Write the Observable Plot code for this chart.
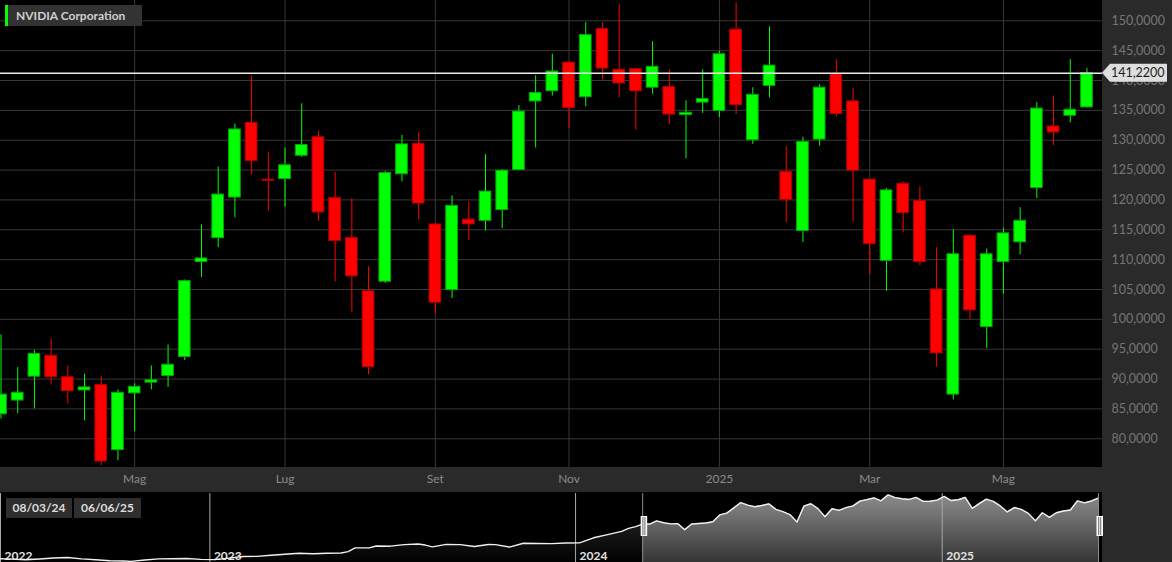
<!DOCTYPE html>
<html>
<head>
<meta charset="utf-8">
<script src="https://cdn.jsdelivr.net/npm/d3@7"></script>
<script src="https://cdn.jsdelivr.net/npm/@observablehq/plot@0.6"></script>
<style>
  html, body { margin: 0; padding: 0; background: #000; }
  #wrap { position: relative; width: 1172px; height: 562px; background: #000; overflow: hidden; font-family: Lato, sans-serif; }
  .panel { position: absolute; background: #2a2a2a; }
  #main, #nav { position: absolute; left: 0; }
  #main { top: 0; }
  #nav { top: 493px; }
  #title { position: absolute; left: 5px; top: 5px; height: 21px; width: 126px; background: #333; border-left: 3px solid #00ff00;
           color: #cfcfcf; font: bold 12px Lato, sans-serif; line-height: 21px; padding-left: 8px; white-space: nowrap; }
  .datebox { position: absolute; top: 498px; height: 20px; background: #2e2e2e; color: #dcdcdc;
             font: bold 12px Lato, sans-serif; line-height: 20px; text-align: center; }
</style>
</head>
<body>
<div id="wrap">
  <div class="panel" style="left:1102px;top:0;width:70px;height:562px"></div>
  <div class="panel" style="left:0;top:467px;width:1102px;height:25px"></div>
  <div id="main"></div>
  <div id="nav"></div>
  <div id="title"></div>
  <div class="datebox" id="d0" style="left:6px;width:66px"></div>
  <div class="datebox" id="d1" style="left:74px;width:67px"></div>
</div>
<script>
// ---------- data ----------
const title = "NVIDIA Corporation";
const weeks = [
  "2024-03-04","2024-03-11","2024-03-18","2024-03-25","2024-04-01","2024-04-08","2024-04-15","2024-04-22",
  "2024-04-29","2024-05-06","2024-05-13","2024-05-20","2024-05-27","2024-06-03","2024-06-10","2024-06-17",
  "2024-06-24","2024-07-01","2024-07-08","2024-07-15","2024-07-22","2024-07-29","2024-08-05","2024-08-12",
  "2024-08-19","2024-08-26","2024-09-02","2024-09-09","2024-09-16","2024-09-23","2024-09-30","2024-10-07",
  "2024-10-14","2024-10-21","2024-10-28","2024-11-04","2024-11-11","2024-11-18","2024-11-25","2024-12-02",
  "2024-12-09","2024-12-16","2024-12-23","2024-12-30","2025-01-06","2025-01-13","2025-01-20","2025-01-27",
  "2025-02-03","2025-02-10","2025-02-17","2025-02-24","2025-03-03","2025-03-10","2025-03-17","2025-03-24",
  "2025-03-31","2025-04-07","2025-04-14","2025-04-21","2025-04-28","2025-05-05","2025-05-12","2025-05-19",
  "2025-05-26","2025-06-02"
];
const opens = [
  84.1, 86.4, 90.4, 93.9, 90.3, 88.1, 89.0, 78.1, 87.6, 89.4, 90.5, 93.7, 109.6, 113.6, 120.4, 132.9,
  123.4, 123.5, 127.4, 130.5, 120.3, 113.6, 104.7, 106.3, 124.3, 129.4, 115.9, 104.9, 116.7, 116.5, 118.3, 125.0,
  136.5, 138.2, 143.0, 137.2, 148.6, 141.8, 141.9, 138.8, 138.9, 134.2, 136.3, 134.9, 148.5, 130.0, 139.1, 124.7,
  114.8, 130.1, 141.1, 136.5, 123.4, 109.8, 122.7, 119.8, 105.0, 87.4, 114.0, 98.7, 109.6, 112.9, 122.0, 132.3,
  134.1, 135.5
];
const highs = [
  97.4, 91.9, 94.8, 96.7, 92.2, 90.8, 90.5, 88.2, 89.2, 92.2, 95.7, 106.6, 115.8, 125.5, 132.7, 140.8,
  128.0, 128.7, 136.1, 131.5, 124.6, 120.2, 108.8, 124.8, 130.8, 131.2, 116.0, 120.7, 119.7, 127.6, 125.1, 135.8,
  140.8, 144.4, 143.1, 149.7, 149.7, 152.8, 142.0, 146.5, 141.8, 136.6, 141.8, 144.9, 153.0, 138.8, 149.0, 128.9,
  130.5, 139.3, 143.5, 138.7, 123.5, 121.9, 123.0, 122.2, 112.0, 115.0, 114.2, 111.8, 115.3, 118.7, 136.3, 137.4,
  143.5, 142.0
];
const lows = [
  83.3, 84.2, 85.0, 89.0, 85.8, 83.0, 75.5, 76.3, 81.2, 88.2, 88.6, 93.1, 107.0, 112.0, 117.0, 124.2,
  118.1, 118.8, 127.1, 116.4, 106.3, 101.2, 90.7, 106.0, 123.0, 116.7, 100.9, 103.5, 113.2, 114.8, 115.2, 125.0,
  128.7, 137.4, 132.0, 135.6, 140.1, 137.1, 131.7, 137.7, 132.6, 126.9, 134.5, 133.8, 134.3, 129.3, 137.1, 116.2,
  112.9, 129.0, 133.9, 116.3, 107.5, 104.7, 114.5, 109.0, 92.0, 86.5, 99.9, 95.1, 104.2, 110.8, 120.2, 129.1,
  132.9, 135.4
];
const closes = [
  87.4, 87.7, 94.2, 90.3, 88.0, 88.6, 76.2, 87.7, 88.7, 89.8, 92.4, 106.4, 110.2, 120.9, 131.8, 126.5,
  123.2, 125.8, 129.2, 117.9, 113.1, 107.2, 92.0, 124.5, 129.3, 119.4, 102.8, 119.0, 115.9, 121.4, 124.9, 134.8,
  137.9, 141.5, 135.4, 147.6, 142.0, 139.5, 138.2, 142.3, 134.3, 134.6, 136.9, 144.4, 135.9, 137.6, 142.5, 120.0,
  129.7, 138.8, 134.4, 124.9, 112.6, 121.6, 117.8, 109.6, 94.3, 110.9, 101.5, 110.9, 114.4, 116.5, 135.3, 131.3,
  135.1, 141.22
];
const tickWeeks  = ["2024-04-29","2024-07-01","2024-09-02","2024-10-28","2024-12-30","2025-03-03","2025-04-28"];
const tickLabels = ["Mag","Lug","Set","Nov","2025","Mar","Mag"];
const yTicks = [80, 85, 90, 95, 100, 105, 110, 115, 120, 125, 130, 135, 140, 145, 150];

// navigator (longer history before the visible range)
const histDates = [
  "2022-06-06","2022-06-17","2022-07-01","2022-07-15","2022-07-29","2022-08-12","2022-08-26","2022-09-09",
  "2022-09-23","2022-10-07","2022-10-14","2022-10-28","2022-11-11","2022-11-25","2022-12-09","2022-12-23",
  "2023-01-06","2023-01-20","2023-02-03","2023-02-17","2023-03-03","2023-03-17","2023-03-31","2023-04-14",
  "2023-04-28","2023-05-12","2023-05-19","2023-05-26","2023-06-09","2023-06-16","2023-06-30","2023-07-14",
  "2023-07-28","2023-08-04","2023-08-11","2023-08-25","2023-09-08","2023-09-22","2023-10-06","2023-10-13",
  "2023-10-27","2023-11-10","2023-11-24","2023-12-08","2023-12-22","2024-01-05","2024-01-19","2024-02-02",
  "2024-02-16","2024-02-23","2024-03-01"
];
const histCloses = [
  16.5, 15.8, 14.5, 16.0, 18.1, 19.0, 16.3, 14.4,
  12.5, 12.0, 11.2, 13.8, 16.3, 16.5, 17.0, 15.2,
  14.8, 17.8, 21.1, 21.4, 23.8, 25.7, 27.8, 26.7,
  27.7, 28.3, 31.2, 38.9, 38.8, 42.6, 42.3, 45.4,
  46.8, 44.6, 40.9, 46.0, 45.5, 41.6, 45.7, 45.5,
  40.5, 48.3, 47.8, 47.5, 48.9, 49.0, 59.5, 66.1,
  72.6, 78.9, 82.3
];
const navDomain = ["2022-06-06", "2025-06-06"];
const yearLabels = ["2022", "2023", "2024", "2025"];
const yearStarts = ["2022-06-06", "2023-01-01", "2024-01-01", "2025-01-01"];
const rangeDates = ["2024-03-08", "2025-06-06"];
const rangeLabels = ["08/03/24", "06/06/25"];

// ---------- build ----------
const UP = "#00ff00", DOWN = "#ff0000", UP_EDGE = "#00a800", DOWN_EDGE = "#b00000";
const candles = weeks.map((w, i) => ({
  i, week: w, open: opens[i], high: highs[i], low: lows[i], close: closes[i]
}));
const tickIdx = tickWeeks.map(w => weeks.indexOf(w));
const last = closes[closes.length - 1];
const fmt = v => v.toFixed(4).replace(".", ",");
const isUp = d => d.close >= d.open;

document.getElementById("title").textContent = title;
document.getElementById("d0").textContent = rangeLabels[0];
document.getElementById("d1").textContent = rangeLabels[1];

const main = Plot.plot({
  width: 1172, height: 493,
  marginLeft: 0, marginRight: 70, marginTop: 0, marginBottom: 26,
  style: { background: "transparent", fontFamily: "Lato, sans-serif", color: "#7a7a7a" },
  x: { type: "linear", domain: [-0.03, 65.93], axis: null, label: null },
  y: { domain: [75.19, 153.4], axis: null, label: null },
  marks: [
    Plot.gridY(yTicks, { stroke: "#383838", strokeOpacity: 1 }),
    Plot.gridX(tickIdx, { stroke: "#383838", strokeOpacity: 1 }),
    Plot.ruleX(candles, { x: "i", y1: "low", y2: "high", stroke: d => isUp(d) ? UP : DOWN, strokeWidth: 1, clip: true }),
    Plot.rect(candles, {
      x1: d => d.i - 0.35, x2: d => d.i + 0.35, y1: "open", y2: "close",
      fill: d => isUp(d) ? UP : DOWN, stroke: d => isUp(d) ? UP_EDGE : DOWN_EDGE, strokeWidth: 1, clip: true
    }),
    Plot.ruleY([last], { stroke: "#ececec", strokeWidth: 1.3 }),
    Plot.axisY(yTicks, { anchor: "right", label: null, tickSize: 0, tickPadding: 9, tickFormat: fmt, fontSize: 12.5, fill: "#767676" }),
    Plot.axisX(tickIdx, { anchor: "bottom", label: null, tickSize: 0, tickPadding: 7,
      tickFormat: i => tickLabels[tickIdx.indexOf(i)], fontSize: 12, fill: "#8a8a8a" })
  ]
});
document.getElementById("main").appendChild(main);

// last price tag, positioned with the plot's own y scale
{
  const ys = main.scale("y").apply(last);
  const xr = 1102;
  const g = d3.select(main).append("g");
  g.append("path")
    .attr("d", `M${xr},${ys} L${xr + 8},${ys - 9} L${xr + 65},${ys - 9} L${xr + 65},${ys + 9} L${xr + 8},${ys + 9} Z`)
    .attr("fill", "#dedede");
  g.append("text").attr("x", xr + 9).attr("y", ys).attr("dy", "0.36em")
    .attr("text-anchor", "start")
    .attr("fill", "#1e1e1e").attr("font-size", 12.5).attr("font-family", "Lato, sans-serif")
    .text(fmt(last));
}

// navigator
const histData = histDates.map((d, k) => ({ date: new Date(d), close: histCloses[k] }));
const weekData = candles.map(c => ({ date: d3.utcDay.offset(new Date(c.week), 4), close: c.close }));
const navAll = histData.concat(weekData);
const selStart = new Date(rangeDates[0]), selEnd = new Date(rangeDates[1]);
const navSel = navAll.filter(d => d.date >= selStart);
const years = yearLabels.map((l, k) => ({ label: l, date: new Date(yearStarts[k]) }));

const nav = Plot.plot({
  width: 1172, height: 69,
  marginLeft: 0, marginRight: 74, marginTop: 0, marginBottom: 0,
  style: { background: "transparent", fontFamily: "Lato, sans-serif" },
  x: { type: "utc", domain: navDomain.map(d => new Date(d)), axis: null, label: null },
  y: { domain: [8.8, 150.4], axis: null, label: null },
  marks: [
    Plot.areaY(navAll, { x: "date", y: "close", fill: "url(#navDark)", clip: true }),
    Plot.areaY(navSel, { x: "date", y: "close", fill: "url(#navSel)", clip: true }),
    Plot.ruleX(years, { x: "date", stroke: "#a8a8a8", strokeWidth: 1 }),
    Plot.ruleX([selStart, selEnd], { stroke: "#8a8a8a", strokeWidth: 1 }),
    Plot.text(years, { x: "date", text: "label", frameAnchor: "bottom", lineAnchor: "bottom", textAnchor: "start",
      dx: 4, dy: -3, fill: "#e2e2e2", fontWeight: "bold", fontSize: 12 }),
    Plot.lineY(navAll, { x: "date", y: "close", stroke: "#f0f0f0", strokeWidth: 1.4, clip: true })
  ]
});
document.getElementById("nav").appendChild(nav);
{
  const svg = d3.select(nav);
  const defs = svg.insert("defs", ":first-child");
  const g1 = defs.append("linearGradient").attr("id", "navSel").attr("gradientUnits", "userSpaceOnUse")
    .attr("x1", 0).attr("y1", 0).attr("x2", 0).attr("y2", 69);
  g1.append("stop").attr("offset", "0%").attr("stop-color", "#8e8e8e");
  g1.append("stop").attr("offset", "100%").attr("stop-color", "#353535");
  const g2 = defs.append("linearGradient").attr("id", "navDark").attr("gradientUnits", "userSpaceOnUse")
    .attr("x1", 0).attr("y1", 0).attr("x2", 0).attr("y2", 69);
  g2.append("stop").attr("offset", "0%").attr("stop-color", "#303030");
  g2.append("stop").attr("offset", "100%").attr("stop-color", "#020202");
  // range handles, placed with the navigator's x scale
  const sx = nav.scale("x");
  [selStart, selEnd].forEach(dt => {
    const x = sx.apply(dt);
    const h = svg.append("g");
    h.append("rect").attr("x", x - 1.5).attr("y", 23).attr("width", 6.5).attr("height", 20).attr("fill", "#ffffff");
    h.append("rect").attr("x", x + 0.3).attr("y", 24).attr("width", 0.9).attr("height", 18).attr("fill", "#555");
    h.append("rect").attr("x", x + 2.3).attr("y", 24).attr("width", 0.9).attr("height", 18).attr("fill", "#555");
  });
}
</script>
</body>
</html>
